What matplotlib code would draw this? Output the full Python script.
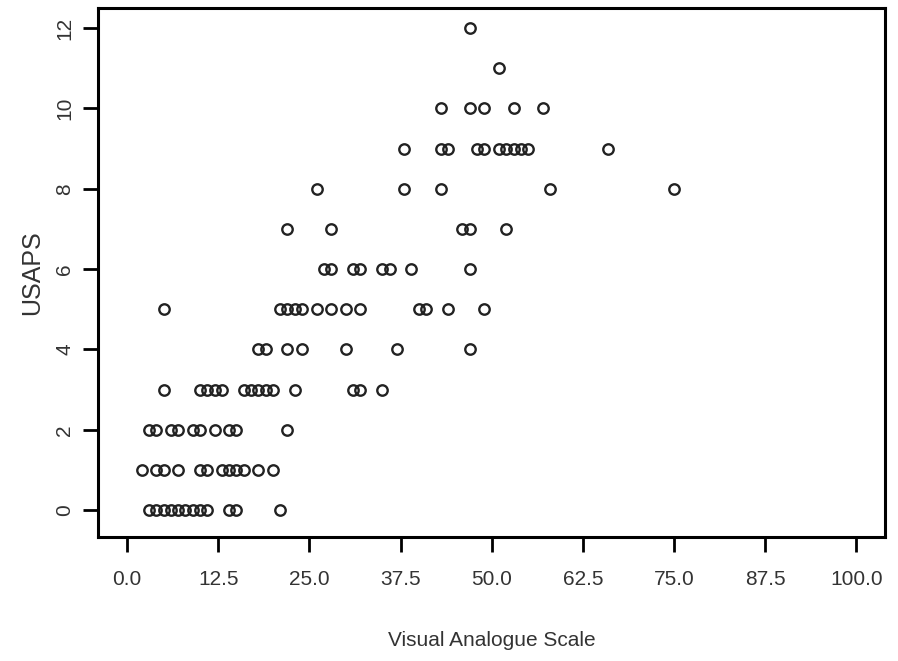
import matplotlib.pyplot as plt

plt.rcParams['font.family'] = ['Liberation Sans', 'DejaVu Sans']

# VAS score of each subject, grouped by their USAPS score
vas_by_usaps = {
    0: [3, 4, 5, 6, 7, 8, 9, 10, 11, 14, 15, 21],
    1: [2, 4, 5, 7, 10, 11, 13, 14, 15, 16, 18, 20],
    2: [3, 4, 6, 7, 9, 10, 12, 14, 15, 22],
    3: [5, 10, 11, 12, 13, 16, 17, 18, 19, 20, 23, 31, 32, 35],
    4: [18, 19, 22, 24, 30, 37, 47],
    5: [5, 21, 22, 23, 24, 26, 28, 30, 32, 40, 41, 44, 49],
    6: [27, 28, 31, 32, 35, 36, 39, 47],
    7: [22, 28, 46, 47, 52],
    8: [26, 38, 43, 58, 75],
    9: [38, 43, 44, 48, 49, 51, 52, 53, 54, 55, 66],
    10: [43, 47, 49, 53, 57],
    11: [51],
    12: [47],
}

vas = []
usaps = []
for score, values in vas_by_usaps.items():
    vas += values
    usaps += [score] * len(values)

x_ticks = [0, 12.5, 25, 37.5, 50, 62.5, 75, 87.5, 100]
y_ticks = [0, 2, 4, 6, 8, 10, 12]

fig = plt.figure(figsize=(8.98, 6.61), dpi=100)
ax = fig.add_axes([0.109, 0.1876, 0.877, 0.8003])

ax.plot(vas, usaps, 'o', mfc='none', mec='#222222', ms=7.5, mew=1.7)

ax.set_xlim(-4, 104)
ax.set_ylim(-0.67, 12.5)
ax.set_xticks(x_ticks)
ax.set_xticklabels([f'{t:.1f}' for t in x_ticks])
ax.set_yticks(y_ticks)
ax.set_yticklabels([str(t) for t in y_ticks], rotation=90, va='center')

for s in ax.spines.values():
    s.set_linewidth(2.2)
ax.tick_params(direction='out', length=11, width=2, labelsize=15,
               labelcolor='#333333')
ax.tick_params(axis='x', pad=13)
ax.tick_params(axis='y', pad=6)

ax.set_xlabel('Visual Analogue Scale', fontsize=15, color='#333333', labelpad=30)
ax.set_ylabel('USAPS', fontsize=18, color='#333333', labelpad=8)

fig.savefig('out.png', dpi=100)
